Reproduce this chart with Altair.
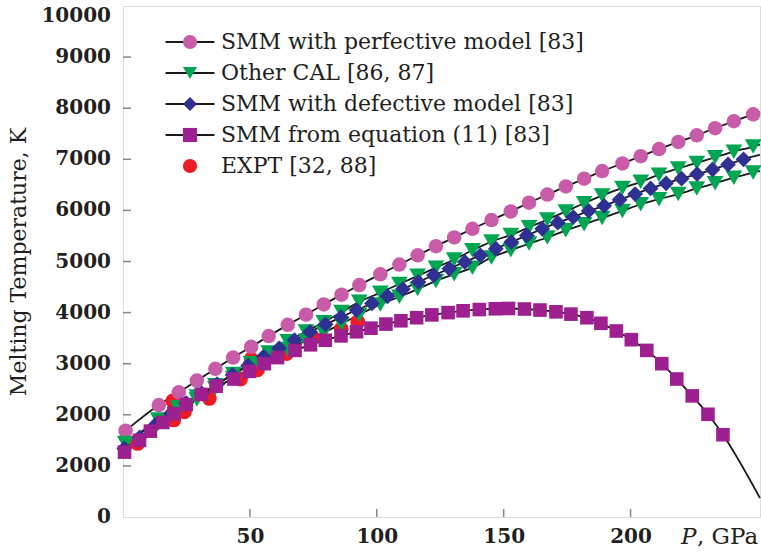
import altair as alt
import pandas as pd

FONT = "DejaVu Serif"
TXT = "#231F20"
FRAME = "#555555"
W, H = 637, 511

SERIES = [
    "SMM with perfective model [83]",
    "Other CAL [86, 87]",
    "SMM with defective model [83]",
    "SMM from equation (11) [83]",
    "EXPT [32, 88]",
]
COLORS = ["#C95CA8", "#00A651", "#2E3192", "#9E1F8F", "#ED1C24"]
SHAPES = ["circle", "triangle-down", "diamond", "square", "circle"]
SIZES = [210, 280, 250, 185, 220]

# SMM with perfective model (pink circles)
P_PERF = [1.0, 14.1, 22.0, 29.1, 36.4, 43.4, 50.5, 57.4, 64.9, 72.1, 79.1, 86.1,
          93.1, 101.4, 108.9, 116.1, 123.3, 130.5, 137.7, 145.2, 152.8, 160.0,
          167.2, 174.5, 181.7, 188.8, 196.8, 204.0, 211.2, 218.8, 226.1, 233.3,
          240.7, 248.3]
T_PERF = [1690, 2190, 2440, 2670, 2900, 3120, 3330, 3540, 3760, 3960, 4160, 4350,
          4540, 4750, 4940, 5120, 5300, 5470, 5640, 5810, 5980, 6150, 6310, 6470,
          6620, 6770, 6920, 7060, 7200, 7340, 7470, 7610, 7745, 7880]

# Other CAL (green triangles, two curves)
P_CAL = P_PERF
T_CAL_UP = [1450, 1910, 2150, 2360, 2580, 2800, 3010, 3220, 3440, 3630, 3810, 4010,
            4210, 4390, 4560, 4720, 4880, 5040, 5220, 5390, 5520, 5670, 5820, 5980,
            6140, 6290, 6440, 6560, 6700, 6820, 6930, 7040, 7150, 7250]
T_CAL_LOW = [1440, 1890, 2110, 2300, 2520, 2720, 2900, 3090, 3290, 3450, 3610, 3780,
             3960, 4160, 4310, 4460, 4620, 4750, 4880, 5080, 5220, 5350, 5470, 5610,
             5730, 5850, 5990, 6120, 6220, 6320, 6430, 6530, 6640, 6740]

# SMM with defective model (blue diamonds)
P_DEF = [0.5, 6.6, 12.7, 18.8, 24.9, 31.0, 37.1, 43.2, 49.3, 55.4, 61.5, 67.6, 73.7,
         79.8, 85.9, 92.0, 98.1, 104.2, 110.3, 116.4, 122.5, 128.6, 134.7, 140.8,
         146.9, 153.0, 159.1, 165.2, 171.3, 177.4, 183.5, 189.6, 195.7, 201.8,
         207.9, 214.0, 220.1, 226.2, 232.3, 238.4, 244.5]
T_DEF = [1340, 1560, 1800, 2020, 2230, 2420, 2600, 2780, 2960, 3140, 3300, 3460, 3620,
         3770, 3910, 4050, 4180, 4320, 4460, 4600, 4730, 4860, 4990, 5120, 5250, 5380,
         5510, 5640, 5760, 5870, 5990, 6090, 6210, 6320, 6430, 6530, 6620, 6710, 6800,
         6900, 7000]

# SMM from equation (11) (purple squares)
P_EQ = [0.6, 6.5, 10.8, 15.7, 20.0, 24.9, 30.8, 36.7, 43.7, 49.8, 55.7, 60.9, 67.8,
        73.9, 79.7, 85.9, 92.0, 97.7, 103.6, 109.5, 115.7, 121.7, 128.1, 134.0, 140.4,
        146.7, 151.9, 158.2, 164.3, 170.6, 176.5, 182.8, 188.3, 194.4, 200.3, 206.4,
        212.3, 218.2, 224.3, 230.5, 236.4]
T_EQ = [1270, 1500, 1680, 1850, 2020, 2200, 2400, 2560, 2700, 2850, 3000, 3120, 3260,
        3370, 3460, 3545, 3625, 3695, 3775, 3840, 3900, 3955, 4000, 4035, 4060, 4075,
        4080, 4070, 4050, 4015, 3970, 3900, 3790, 3640, 3470, 3260, 3000, 2700, 2370,
        2010, 1610]

# EXPT (red circles)
P_EXPT = [5.8, 19.6, 20.0, 24.2, 34.0, 46.3, 50.5, 53.0, 64.5, 74.7, 86.0, 92.5]
T_EXPT = [1440, 2270, 1900, 2060, 2320, 2700, 3090, 2880, 3200, 3520, 3680, 3820]

# black fitted curves: their ends at the left and right frame
CURVES = ["perf", "cal_up", "cal_low", "def", "eq"]
CURVE_KEY = [SERIES[0], SERIES[1], SERIES[1], SERIES[2], SERIES[3]]
CURVE_P_START = [0, 0, 0, 0, 0]
CURVE_T_START = [1650, 1420, 1410, 1320, 1245]
CURVE_P_END = [251, 251, 251, 251, 251]
CURVE_T_END = [7925, 7290, 6775, 7090, 370]

X_TICKS = [50, 100, 150, 200]
Y_TICKS = [0, 1000, 2000, 3000, 4000, 5000, 6000, 7000, 8000, 9000, 10000]
Y_LABELS = ["0", "2000", "2000", "3000", "4000", "5000", "6000", "7000", "8000",
            "9000", "10000"]
X_TITLE = ["P", ", GPa"]
Y_TITLE = "Melting Temperature, K"

# ---------- tables ----------
def pts_table(ps, ts, name):
    return pd.DataFrame({"P": ps, "T": ts, "series": [name] * len(ps)})

point_tables = [
    (pts_table(P_EXPT, T_EXPT, SERIES[4]), 4),
    (pts_table(P_PERF, T_PERF, SERIES[0]), 0),
    (pd.concat([pts_table(P_CAL, T_CAL_UP, SERIES[1]),
                pts_table(P_CAL, T_CAL_LOW, SERIES[1])]), 1),
    (pts_table(P_DEF, T_DEF, SERIES[2]), 2),
    (pts_table(P_EQ, T_EQ, SERIES[3]), 3),
]

curve_src = {
    "perf": (P_PERF, T_PERF),
    "cal_up": (P_CAL, T_CAL_UP),
    "cal_low": (P_CAL, T_CAL_LOW),
    "def": (P_DEF, T_DEF),
    "eq": (P_EQ, T_EQ),
}
lines = []
for i, c in enumerate(CURVES):
    ps, ts = curve_src[c]
    allp = [CURVE_P_START[i]] + list(ps) + [CURVE_P_END[i]]
    allt = [CURVE_T_START[i]] + list(ts) + [CURVE_T_END[i]]
    for p, t in zip(allp, allt):
        lines.append({"P": p, "T": t, "curve": c, "key": CURVE_KEY[i]})
line_df = pd.DataFrame(lines)

ylab_df = pd.DataFrame({"T": Y_TICKS, "lab": Y_LABELS})

xscale = alt.Scale(domain=[0, 251], nice=False, zero=False)
yscale = alt.Scale(domain=[0, 10000], nice=False, zero=True)

x_axis = alt.Axis(values=X_TICKS, title=None, domain=False, ticks=False, grid=False,
                  labelFont=FONT, labelFontSize=20, labelFontWeight="bold",
                  labelColor=TXT, labelPadding=9, format="d")
y_axis = alt.Axis(title=Y_TITLE, domain=False, ticks=False, labels=False, grid=False,
                  titleFont=FONT, titleFontSize=22, titleFontWeight="normal",
                  titleColor=TXT, titleX=-105, titleY=H / 2, titleAngle=270,
                  titleAlign="center", titleBaseline="middle")

LEG_X, LEG_Y = 56, 25
line_legend = alt.Legend(orient="none", legendX=LEG_X, legendY=LEG_Y, direction="vertical",
                         title=None, symbolType="M-3.46,0L3.46,0", symbolSize=200,
                         symbolStrokeWidth=2, labelOpacity=0, labelFont=FONT,
                         labelFontSize=22, rowPadding=9, labelOffset=20, padding=0,
                         labelLimit=600)
pt_legend = alt.Legend(orient="none", legendX=LEG_X, legendY=LEG_Y, direction="vertical",
                       title=None, symbolSize=200, symbolStrokeWidth=0,
                       labelFont=FONT, labelFontSize=22,
                       labelColor=TXT, rowPadding=9, labelOffset=20, padding=0,
                       labelLimit=600)

line_layer = alt.Chart(line_df).mark_line(strokeWidth=1.8, interpolate="monotone").encode(
    x=alt.X("P:Q", scale=xscale, axis=x_axis),
    y=alt.Y("T:Q", scale=yscale, axis=y_axis),
    color=alt.Color("key:N", scale=alt.Scale(domain=SERIES[:4], range=["#1a1a1a"] * 4),
                    legend=line_legend),
    detail="curve:N",
)

fill_scale = alt.Scale(domain=SERIES, range=COLORS)
shape_scale = alt.Scale(domain=SERIES, range=SHAPES)
point_layers = []
for tbl, idx in point_tables:
    point_layers.append(
        alt.Chart(tbl).mark_point(filled=True, opacity=1, strokeWidth=0,
                                  size=SIZES[idx]).encode(
            x=alt.X("P:Q", scale=xscale),
            y=alt.Y("T:Q", scale=yscale),
            fill=alt.Fill("series:N", scale=fill_scale, legend=pt_legend),
            shape=alt.Shape("series:N", scale=shape_scale, legend=pt_legend),
        )
    )

ytick_layer = alt.Chart(pd.DataFrame({"T": Y_TICKS[1:-1]})).mark_tick(
    size=8, thickness=1.5, color=FRAME).encode(
    y=alt.Y("T:Q", scale=yscale),
    x=alt.value(4),
)
xtick_layer = alt.Chart(pd.DataFrame({"P": X_TICKS})).mark_tick(
    size=8, thickness=1.5, color=FRAME).encode(
    x=alt.X("P:Q", scale=xscale),
    y=alt.value(H - 4),
)

ylab_mid = alt.Chart(ylab_df).transform_filter("datum.T < 10000").mark_text(
    font=FONT, fontSize=20, fontWeight="bold", align="right", baseline="middle",
    color=TXT).encode(
    y=alt.Y("T:Q", scale=yscale), x=alt.value(-12), text="lab:N")
ylab_top = alt.Chart(ylab_df).transform_filter("datum.T >= 10000").mark_text(
    font=FONT, fontSize=20, fontWeight="bold", align="right", baseline="top",
    color=TXT).encode(
    y=alt.Y("T:Q", scale=yscale), x=alt.value(-12), text="lab:N")

t1 = alt.Chart(pd.DataFrame({"t": [X_TITLE[0]]})).mark_text(
    font=FONT, fontSize=23, fontStyle="italic", align="left", baseline="middle",
    color=TXT).encode(x=alt.value(558), y=alt.value(H + 20), text="t:N")
t2 = alt.Chart(pd.DataFrame({"t": [X_TITLE[1]]})).mark_text(
    font=FONT, fontSize=23, align="left", baseline="middle",
    color=TXT).encode(x=alt.value(574), y=alt.value(H + 20), text="t:N")

chart = alt.layer(line_layer, *point_layers, ytick_layer, xtick_layer, ylab_mid, ylab_top,
                  t1, t2).properties(
    width=W, height=H,
    padding={"left": 123, "top": 6, "right": 1, "bottom": 36},
    autosize=alt.AutoSizeParams(type="none"),
).configure_view(stroke=FRAME, strokeWidth=1.6).configure(background="white")

chart.save("out.html", embed_options={"renderer": "svg", "actions": False})
